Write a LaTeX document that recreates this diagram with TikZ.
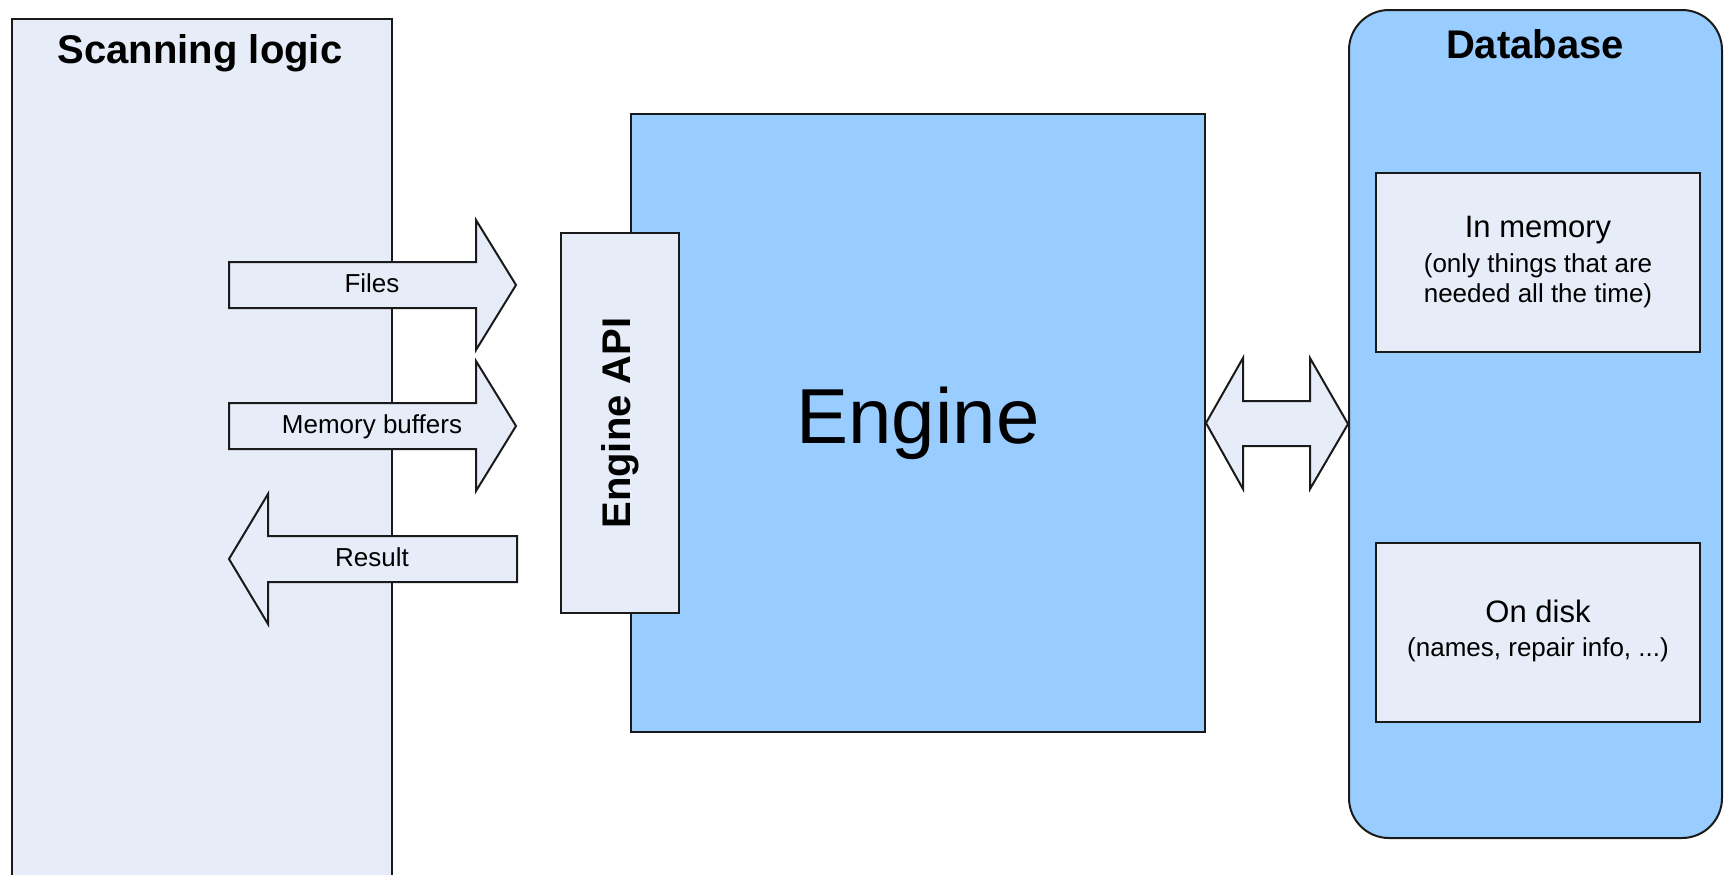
\documentclass[tikz,border=0pt]{standalone}
\usepackage{fontspec}
\setmainfont{Liberation Sans}
\definecolor{paleblue}{HTML}{E6EDF8}
\definecolor{skyblue}{HTML}{99CCFF}
\definecolor{edge}{HTML}{1A1A1A}
\begin{document}
\begin{tikzpicture}[x=0.5pt,y=-0.5pt,
  outline/.style={draw=edge, line width=1pt},
  palebox/.style={outline, fill=paleblue, rectangle, inner sep=0pt},
  bluebox/.style={outline, fill=skyblue, rectangle, inner sep=0pt},
  blockarrow/.style={outline, fill=paleblue, line join=miter},
  title/.style={font=\bfseries\fontsize{20}{24}\selectfont, inner sep=0pt},
  small/.style={font=\fontsize{13}{15}\selectfont, inner sep=0pt},
  medium/.style={font=\fontsize{15.5}{18}\selectfont, inner sep=0pt}]
\useasboundingbox (0,0) rectangle (1724,874);
\clip (0,0) rectangle (1724,874);

% scanning logic column (runs off the bottom edge)
\node[palebox, anchor=north west, minimum width=190pt, minimum height=450pt] (scan) at (11,18) {};
\node[title] (scantitle) at (200,53) {Scanning logic};

% block arrows between scanning logic and the engine API
\draw[blockarrow] (229,262) -- (476,262) -- (476,220) -- (516,285) -- (476,350) -- (476,308) -- (229,308) -- cycle;
\node[small] (files) at (372,283) {Files};
\draw[blockarrow] (229,403) -- (476,403) -- (476,361) -- (516,426) -- (476,491) -- (476,449) -- (229,449) -- cycle;
\node[small] (buffers) at (372,426.5) {Memory buffers};
\draw[blockarrow] (517,536) -- (268,536) -- (268,494) -- (229,559) -- (268,624) -- (268,582) -- (517,582) -- cycle;
\node[small] (result) at (372,557) {Result};

% engine core with its API
\node[bluebox, anchor=north west, minimum width=287pt, minimum height=309pt,
      font=\fontsize{39}{46}\selectfont] (engine) at (630,113) {Engine};
\node[palebox, anchor=north west, minimum width=59pt, minimum height=190pt] (api) at (560,232) {};
\node[title, rotate=90] (apilabel) at (api.center) {Engine API};

% database with its two storage parts
\node[bluebox, rounded corners=20pt, anchor=north west, minimum width=186.5pt, minimum height=414pt] (db) at (1348,9) {};
\node[title] (dbtitle) at (1535,44) {Database};
\node[palebox, anchor=north west, minimum width=162pt, minimum height=89.5pt] (mem) at (1375,172) {};
\node[medium] (memtitle) at (mem.center |- 0,230) {In memory};
\node[small] (memline1) at (mem.center |- 0,266) {(only things that are};
\node[small] (memline2) at (mem.center |- 0,296) {needed all the time)};
\node[palebox, anchor=north west, minimum width=162pt, minimum height=89.5pt] (disk) at (1375,542) {};
\node[medium] (disktitle) at (disk.center |- 0,611) {On disk};
\node[small] (diskline) at (disk.center |- 0,650) {(names, repair info, ...)};

% two-way link between engine and database
\draw[blockarrow] (engine.east) -- ++(37,-65) -- ++(0,43) -- ++(67,0) -- ++(0,-43)
  -- (db.west) -- ++(-38,65) -- ++(0,-43) -- ++(-67,0) -- ++(0,43) -- cycle;
\end{tikzpicture}
\end{document}
